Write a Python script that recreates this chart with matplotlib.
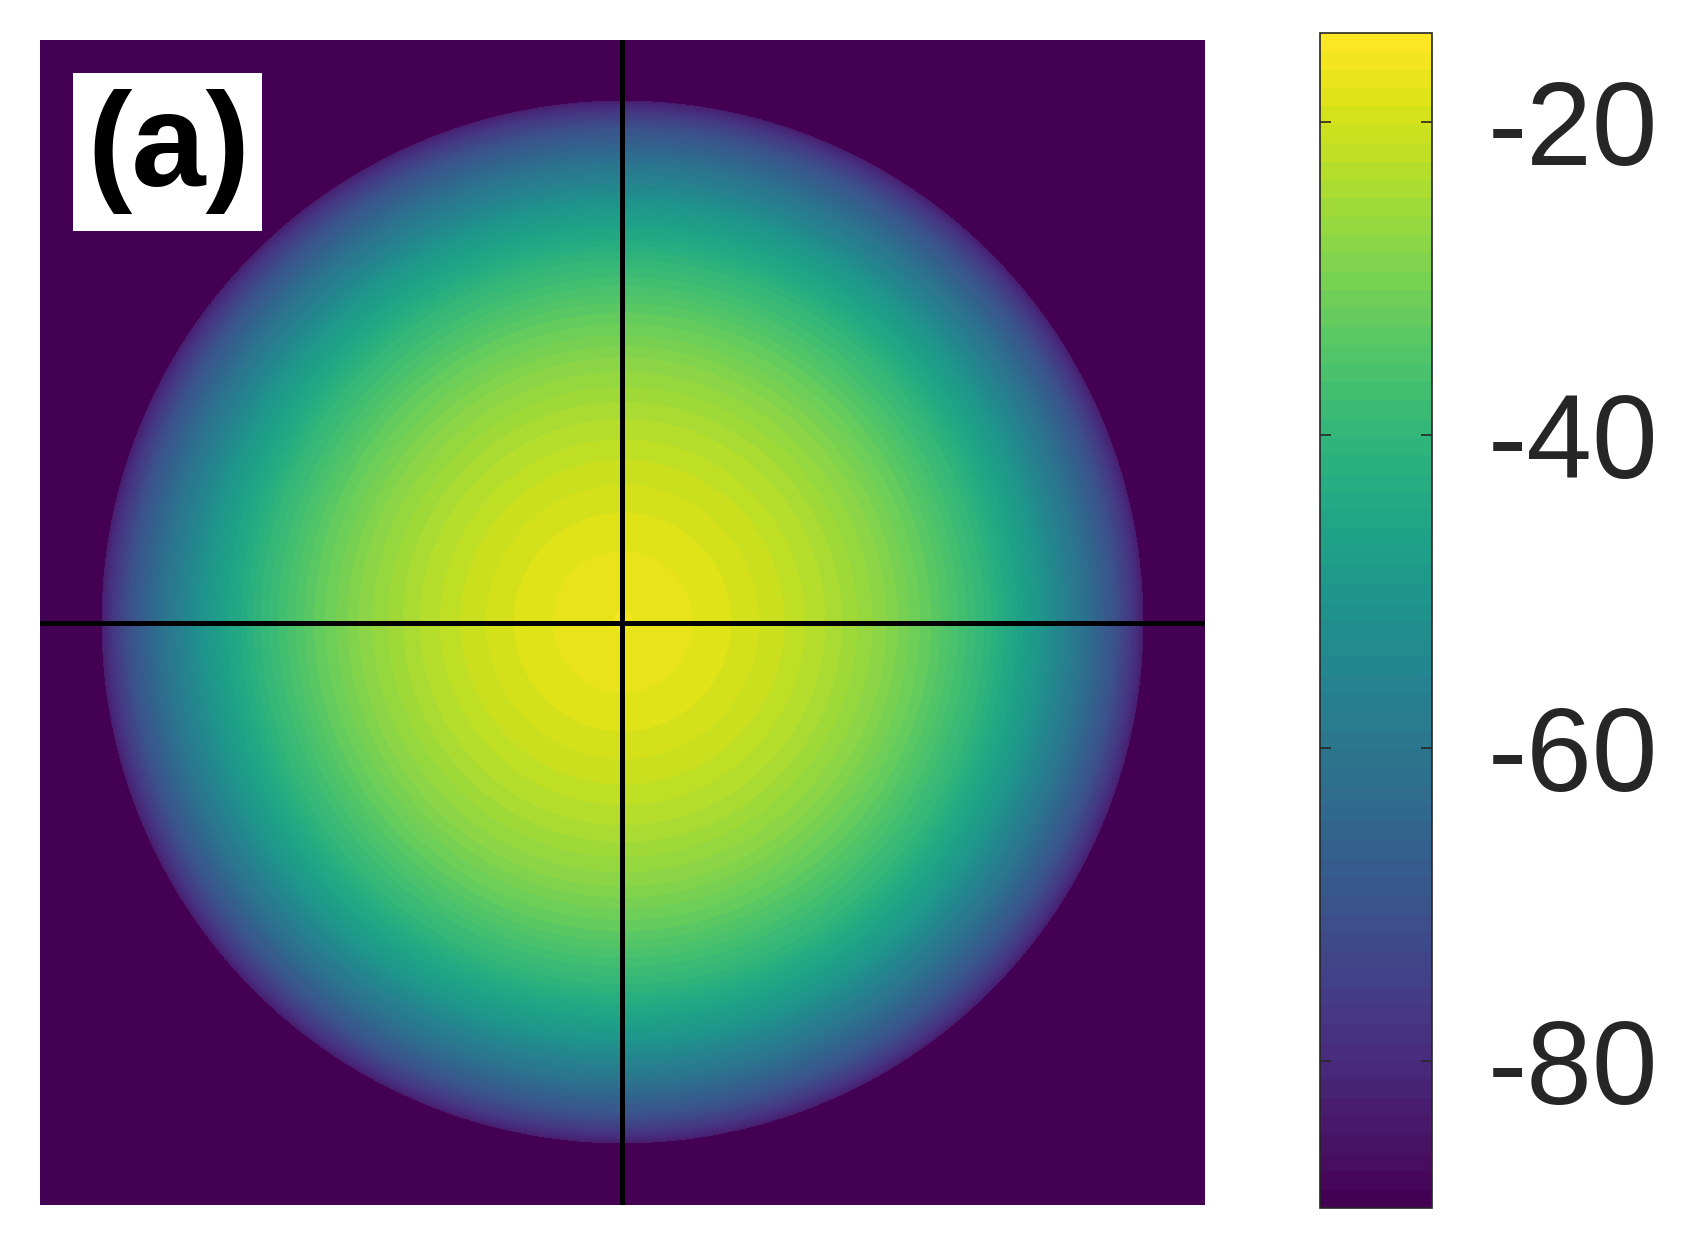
import numpy as np
from matplotlib import pyplot as plt

# radial profile of the disc (r / disc radius, dB)
r_prof = [0.0, 0.1, 0.2, 0.3, 0.4, 0.5, 0.6, 0.7, 0.8, 0.88, 0.95, 0.985, 1.0]
db_prof = [-16.5, -17.3, -18.8, -21.0, -24.0, -28.0, -33.5, -40.5, -50.0, -60.5, -71.0, -78.5, -83.0]
disc_radius = 0.895      # fraction of the half width of the image
background = -89.4
clim = (-89.4, -14.3)
cbar_ticks = [-80, -60, -40, -20]
cbar_labels = ["-80", "-60", "-40", "-20"]

n = 1165
x = np.linspace(-1, 1, n)
X, Y = np.meshgrid(x, x)
R = np.sqrt(X**2 + Y**2) / disc_radius
Z = np.interp(R, r_prof, db_prof)
Z[R > 1.0] = background

fig = plt.figure(figsize=(16.94, 12.46), dpi=100)
ax = fig.add_axes([0.02361, 0.0329, 0.6877, 0.935])
cmap = plt.get_cmap('viridis', 64)
im = ax.imshow(Z, cmap=cmap, vmin=clim[0], vmax=clim[1], extent=[-1, 1, -1, 1],
               origin='lower', interpolation='nearest', aspect='auto')
ax.axhline(0, color='k', lw=3.6)
ax.axvline(0, color='k', lw=3.6)
ax.set_xlim(-1, 1)
ax.set_ylim(-1, 1)
ax.set_xticks([])
ax.set_yticks([])
for s in ax.spines.values():
    s.set_visible(False)

# panel label in a white box
ax.add_patch(plt.Rectangle((0.0283, 0.836), 0.1623, 0.1357, transform=ax.transAxes,
                           facecolor='white', edgecolor='none', zorder=5))
ax.text(0.1107, 0.904, "(a)", transform=ax.transAxes, ha='center', va='center',
        fontsize=96, fontweight='bold', family=['Liberation Sans', 'DejaVu Sans'],
        color='k', zorder=6)

cax = fig.add_axes([0.7792, 0.0305, 0.0661, 0.943])
cb = fig.colorbar(im, cax=cax)
cb.set_ticks(cbar_ticks)
cb.set_ticklabels(cbar_labels)
cb.outline.set_edgecolor('#262626')
cb.outline.set_linewidth(1.2)
cax.tick_params(axis='y', direction='in', length=8, width=1.2, color='#262626',
                left=True, right=True, labelsize=85, labelcolor='#262626', pad=40)
for t in cax.get_yticklabels():
    t.set_family(['Liberation Sans', 'DejaVu Sans'])

fig.savefig("out.png", dpi=100)
